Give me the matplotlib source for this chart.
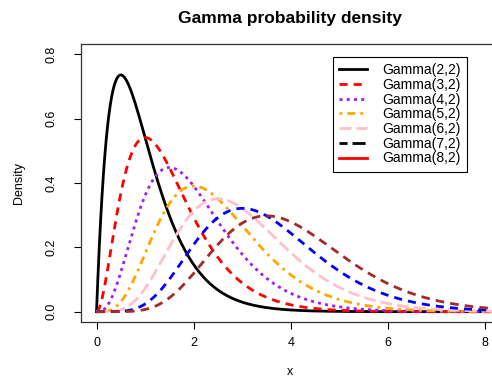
import math
import matplotlib
matplotlib.use("Agg")
import matplotlib.pyplot as plt
import numpy as np

# Gamma(shape, rate) curves drawn in the chart
shapes = [2, 3, 4, 5, 6, 7, 8]
rate = 2
curve_colors = ["black", "red", "#A020F0", "orange", "pink", "blue", "#A52A2A"]
curve_styles = [
    "solid",
    (0, (2.9, 2.2)),
    (0, (1.1, 1.5)),
    (0, (1.0, 1.8, 2.9, 1.8)),
    (0, (4.3, 1.8)),
    (0, (2.9, 2.2)),
    (0, (3.1, 2.2)),
]

# legend entries as they appear (styles/colours differ from the curves)
legend_labels = [f"Gamma({k},{rate})" for k in shapes]
legend_colors = ["black", "red", "#A020F0", "orange", "pink", "black", "red"]
legend_styles = curve_styles[:5] + [(0, (2.9, 1.8, 4.7, 1.8)), "solid"]

x_ticks = [0, 2, 4, 6, 8]
y_ticks = [0.0, 0.2, 0.4, 0.6, 0.8]


def gamma_pdf(x, k, r):
    return r ** k * x ** (k - 1) * np.exp(-r * x) / math.gamma(k)


plt.rcParams["font.family"] = ["Liberation Sans", "DejaVu Sans"]

fig = plt.figure(figsize=(4.92, 3.77), dpi=100)
ax = fig.add_axes([81 / 492, 55 / 377, 419.5 / 492, 278 / 377])

x = np.linspace(0, 8.4, 600)
for k, c, ls in zip(shapes, curve_colors, curve_styles):
    ax.plot(x, gamma_pdf(x, k, rate), color=c, linestyle=ls, linewidth=2.0,
            dash_capstyle="butt")

ax.set_xlim(-0.32, 8.32)
ax.set_ylim(-0.032, 0.832)
ax.set_xticks(x_ticks)
ax.set_yticks(y_ticks)
ax.set_xticklabels([str(t) for t in x_ticks])
ax.set_yticklabels([f"{t:.1f}" for t in y_ticks], rotation=90, va="center")
ax.tick_params(axis="x", length=5, width=0.8, pad=6, labelsize=9)
ax.tick_params(axis="y", length=5, width=0.8, pad=12, labelsize=9)
for s in ax.spines.values():
    s.set_linewidth(0.9)
    s.set_color("#333333")

handles = [plt.Line2D([], [], color=c, linestyle=ls, linewidth=2.0)
           for c, ls in zip(legend_colors, legend_styles)]
leg = ax.legend(handles, legend_labels, loc="upper left",
                bbox_to_anchor=((333 - 81) / 419.5, 1 - (57 - 44) / 278),
                fontsize=10, frameon=True, fancybox=False, framealpha=1,
                edgecolor="black", handlelength=2.0, handletextpad=1.1,
                labelspacing=0.05, borderpad=0.45, borderaxespad=0)
leg.get_frame().set_linewidth(0.8)

fig.text(290 / 492, 1 - 18 / 377, "Gamma probability density", ha="center",
         va="center", fontsize=12.5, fontweight="bold")
fig.text(19 / 492, 1 - 183 / 377, "Density", rotation=90, ha="center",
         va="center", fontsize=9)
fig.text(290 / 492, 1 - 372 / 377, "x", ha="center", va="center", fontsize=9)

fig.savefig("out.png", dpi=100)
